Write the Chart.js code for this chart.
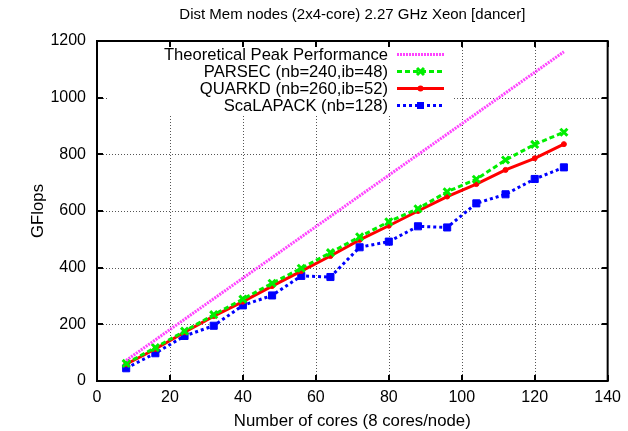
<!DOCTYPE html>
<html>
<head>
<meta charset="utf-8">
<script src="https://cdn.jsdelivr.net/npm/chart.js@4/dist/chart.umd.min.js"></script>
<style>
  html, body { margin: 0; padding: 0; background: #fff; }
  canvas { display: block; }
</style>
</head>
<body>
<canvas id="c" width="628" height="431"></canvas>
<script>
// Cores used in each run (8 cores per node)
const cores = [8, 16, 24, 32, 40, 48, 56, 64, 72, 80, 88, 96, 104, 112, 120, 128];

// Measured performance, GFlops
const parsec    = [62, 118, 176, 234, 289, 345, 398, 453, 509, 562, 608, 668, 712, 780, 835, 878];
const quarkd    = [59, 113, 172, 229, 280, 335, 388, 441, 498, 548, 600, 651, 695, 745, 786, 836];
const scalapack = [45, 98, 159, 195, 267, 302, 371, 367, 472, 492, 546, 542, 627, 659, 713, 754];

// Theoretical peak (straight line between its end points)
const peakCores  = [8, 128];
const peakValues = [72.6, 1162];

const xTicks = [0, 20, 40, 60, 80, 100, 120, 140];
const yTicks = [0, 200, 400, 600, 800, 1000, 1200];

const titleText = 'Dist Mem nodes (2x4-core) 2.27 GHz Xeon [dancer]';
const xTitle = 'Number of cores (8 cores/node)';
const yTitle = 'GFlops';
const seriesNames = [
  'Theoretical Peak Performance',
  'PARSEC (nb=240,ib=48)',
  'QUARKD (nb=260,ib=52)',
  'ScaLAPACK (nb=128)'
];

const FONT = '"Liberation Sans", Arial, Helvetica, sans-serif';

const pairs = (xs, ys) => xs.map((v, i) => ({ x: v, y: ys[i] }));

const datasets = [
  {
    label: seriesNames[0], data: pairs(peakCores, peakValues),
    borderColor: '#ff44ff', borderWidth: 3, borderDash: [2, 1],
    pointRadius: 0, marker: null
  },
  {
    label: seriesNames[1], data: pairs(cores, parsec),
    borderColor: '#00ee00', borderWidth: 3, borderDash: [5, 3],
    pointStyle: 'crossRot', pointRadius: 5, pointBorderWidth: 3,
    pointBorderColor: '#00ee00', pointBackgroundColor: '#00ee00', marker: 'cross'
  },
  {
    label: seriesNames[2], data: pairs(cores, quarkd),
    borderColor: '#ff0000', borderWidth: 3,
    pointStyle: 'circle', pointRadius: 2.5, pointBorderWidth: 1,
    pointBorderColor: '#ff0000', pointBackgroundColor: '#ff0000', marker: 'circle'
  },
  {
    label: seriesNames[3], data: pairs(cores, scalapack),
    borderColor: '#0000ff', borderWidth: 3, borderDash: [3, 3],
    pointStyle: 'rect', pointRadius: 5, pointBorderWidth: 1,
    pointBorderColor: '#0000ff', pointBackgroundColor: '#0000ff', marker: 'rect'
  }
];

function drawMarker(ctx, kind, x, y, color) {
  ctx.save();
  ctx.setLineDash([]);
  ctx.fillStyle = color;
  ctx.strokeStyle = color;
  if (kind === 'cross') {
    const r = 3.5;
    ctx.lineWidth = 3;
    ctx.beginPath();
    ctx.moveTo(x - r, y - r); ctx.lineTo(x + r, y + r);
    ctx.moveTo(x - r, y + r); ctx.lineTo(x + r, y - r);
    ctx.stroke();
  } else if (kind === 'circle') {
    ctx.beginPath();
    ctx.arc(x, y, 3, 0, Math.PI * 2);
    ctx.fill();
  } else if (kind === 'rect') {
    ctx.fillRect(x - 3.5, y - 3.5, 7, 7);
  }
  ctx.restore();
}

// Frame, dotted grid, inward ticks, opaque key box and title, drawn gnuplot style
const framePlugin = {
  id: 'frame',
  beforeDatasetsDraw(chart) {
    const { ctx, chartArea: a, scales: { x, y } } = chart;
    ctx.save();
    ctx.strokeStyle = '#555';
    ctx.lineWidth = 1;
    ctx.setLineDash([1, 2]);
    xTicks.slice(1, -1).forEach(v => {
      const px = Math.round(x.getPixelForValue(v)) + 0.5;
      ctx.beginPath(); ctx.moveTo(px, a.bottom); ctx.lineTo(px, a.top); ctx.stroke();
    });
    yTicks.slice(1, -1).forEach(v => {
      const py = Math.round(y.getPixelForValue(v)) + 0.5;
      ctx.beginPath(); ctx.moveTo(a.left, py); ctx.lineTo(a.right, py); ctx.stroke();
    });
    ctx.setLineDash([]);
    // opaque key area
    ctx.fillStyle = '#fff';
    ctx.fillRect(108, a.top + 2, 344, 71);
    ctx.restore();
  },
  afterDatasetsDraw(chart) {
    const { ctx, chartArea: a, scales: { x, y } } = chart;
    ctx.save();
    ctx.strokeStyle = '#000';
    ctx.setLineDash([]);
    // inward tick marks on all four sides
    ctx.lineWidth = 2;
    const tl = 6;
    xTicks.forEach(v => {
      const px = Math.round(x.getPixelForValue(v));
      ctx.beginPath();
      ctx.moveTo(px, a.bottom); ctx.lineTo(px, a.bottom - tl);
      ctx.moveTo(px, a.top); ctx.lineTo(px, a.top + tl);
      ctx.stroke();
    });
    yTicks.forEach(v => {
      const py = Math.round(y.getPixelForValue(v));
      ctx.beginPath();
      ctx.moveTo(a.left, py); ctx.lineTo(a.left + tl, py);
      ctx.moveTo(a.right, py); ctx.lineTo(a.right - tl, py);
      ctx.stroke();
    });
    // frame
    ctx.lineWidth = 2;
    ctx.strokeRect(a.left, a.top, a.right - a.left, a.bottom - a.top);

    // key
    ctx.font = '16.6px ' + FONT;
    ctx.fillStyle = '#000';
    ctx.textAlign = 'right';
    ctx.textBaseline = 'middle';
    const rowY = [54.5, 71.5, 88.5, 105.5];
    const textRight = 388, s0 = 397, s1 = 444;
    datasets.forEach((ds, i) => {
      const ry = rowY[i];
      ctx.fillStyle = '#000';
      ctx.fillText(ds.label, textRight, ry + 1);
      ctx.strokeStyle = ds.borderColor;
      ctx.lineWidth = ds.borderWidth;
      ctx.setLineDash(ds.borderDash || []);
      ctx.beginPath(); ctx.moveTo(s0, ry); ctx.lineTo(s1, ry); ctx.stroke();
      ctx.setLineDash([]);
      if (ds.marker) drawMarker(ctx, ds.marker, (s0 + s1) / 2, ry, ds.borderColor);
    });

    // title
    ctx.font = '15px ' + FONT;
    ctx.textAlign = 'center';
    ctx.fillStyle = '#000';
    ctx.fillText(titleText, (a.left + a.right) / 2, 15);
    ctx.restore();
  }
};

new Chart(document.getElementById('c'), {
  type: 'line',
  data: { datasets },
  options: {
    responsive: false,
    animation: false,
    devicePixelRatio: 1,
    layout: { padding: { top: 41, right: 18, left: 0, bottom: 0 } },
    plugins: { legend: { display: false }, tooltip: { enabled: false }, title: { display: false } },
    elements: { line: { tension: 0, fill: false } },
    scales: {
      x: {
        type: 'linear', min: 0, max: 140,
        afterBuildTicks: s => { s.ticks = xTicks.map(v => ({ value: v })); },
        afterFit: s => { s.height = 50; },
        grid: { display: false, drawTicks: false },
        border: { display: false },
        ticks: { color: '#000', font: { family: FONT, size: 16 }, padding: 7, maxRotation: 0, autoSkip: false,
                 callback: v => String(v) },
        title: { display: true, text: xTitle, color: '#000', font: { family: FONT, size: 16.8 }, padding: { top: 0, bottom: 0 } }
      },
      y: {
        type: 'linear', min: 0, max: 1200,
        afterBuildTicks: s => { s.ticks = yTicks.map(v => ({ value: v })); },
        afterFit: s => { s.width = 97; },
        grid: { display: false, drawTicks: false },
        border: { display: false },
        ticks: { color: '#000', font: { family: FONT, size: 16 }, padding: 11, autoSkip: false,
                 callback: v => String(v) },
        title: { display: true, text: yTitle, color: '#000', font: { family: FONT, size: 16.8 }, padding: { top: 28, bottom: 0 } }
      }
    }
  },
  plugins: [framePlugin]
});
</script>
</body>
</html>
